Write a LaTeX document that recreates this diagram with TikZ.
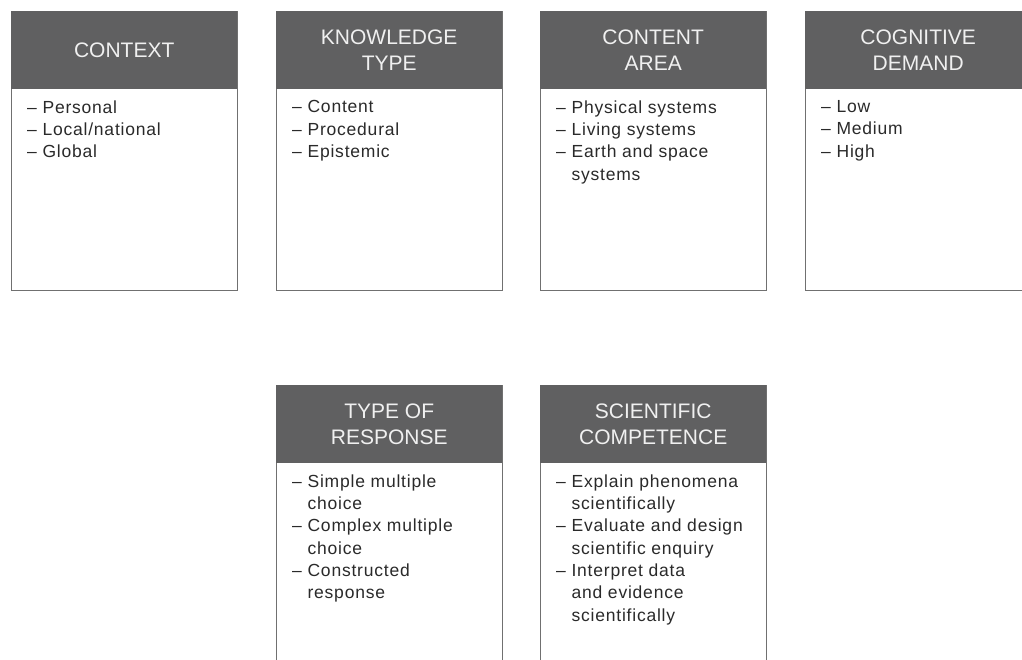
\documentclass[tikz,border=0pt]{standalone}
\usepackage{fontspec}
\setmainfont{Liberation Sans}
\usepackage{tikz}

\definecolor{headgray}{HTML}{606061}
\definecolor{edgegray}{HTML}{707070}
\definecolor{bodytext}{HTML}{2A2A2A}
\newcommand{\headfont}{\fontsize{21}{26}\selectfont}
\newcommand{\bodyfont}{\fontsize{17.5}{22.3}\selectfont\addfontfeatures{LetterSpace=4.5}}
\newcommand{\dashitem}{\textendash\ }
\newcommand{\hangon}{\hphantom{\textendash\ }}

\tikzset{
  frame/.style={draw=edgegray, line width=1.4pt, fill=white, minimum width=226pt,
    minimum height=279pt, anchor=north west, inner sep=0pt},
  head/.style={fill=headgray, text=white!94!black, minimum width=226pt, minimum height=78pt,
    anchor=north west, align=center, font=\headfont, inner sep=0pt},
  body/.style={anchor=north west, align=left, font=\bodyfont, text=bodytext, inner sep=0pt}
}

\begin{document}
\begin{tikzpicture}[x=1pt,y=-1pt]
  \useasboundingbox (0,0) rectangle (1022,660);
  \clip (0,0) rectangle (1022,660);

  % top row
  \node[frame] (ctx) at (11,11) {};
  \node[head] (ctx-h) at (ctx.north west) {CONTEXT};
  \node[body] at ([xshift=16pt,yshift=-11pt]ctx-h.south west)
    {\dashitem Personal\\ \dashitem Local/national\\ \dashitem Global};

  \node[frame] (know) at (276,11) {};
  \node[head] (know-h) at (know.north west) {KNOWLEDGE\\TYPE};
  \node[body] at ([xshift=16pt,yshift=-11pt]know-h.south west)
    {\dashitem Content\\ \dashitem Procedural\\ \dashitem Epistemic};

  \node[frame] (area) at (540,11) {};
  \node[head] (area-h) at (area.north west) {CONTENT\\AREA};
  \node[body] at ([xshift=16pt,yshift=-11pt]area-h.south west)
    {\dashitem Physical systems\\ \dashitem Living systems\\
     \dashitem Earth and space\\ \hangon systems};

  \node[frame] (demand) at (805,11) {};
  \node[head] (demand-h) at (demand.north west) {COGNITIVE\\DEMAND};
  \node[body] at ([xshift=16pt,yshift=-11pt]demand-h.south west)
    {\dashitem Low\\ \dashitem Medium\\ \dashitem High};

  % bottom row
  \node[frame] (resp) at (276,385) {};
  \node[head] (resp-h) at (resp.north west) {TYPE OF\\RESPONSE};
  \node[body] at ([xshift=16pt,yshift=-11pt]resp-h.south west)
    {\dashitem Simple multiple\\ \hangon choice\\ \dashitem Complex multiple\\
     \hangon choice\\ \dashitem Constructed\\ \hangon response};

  \node[frame] (comp) at (540,385) {};
  \node[head] (comp-h) at (comp.north west) {SCIENTIFIC\\COMPETENCE};
  \node[body] at ([xshift=16pt,yshift=-11pt]comp-h.south west)
    {\dashitem Explain phenomena\\ \hangon scientifically\\
     \dashitem Evaluate and design\\ \hangon scientific enquiry\\
     \dashitem Interpret data\\ \hangon and evidence\\ \hangon scientifically};
\end{tikzpicture}
\end{document}
